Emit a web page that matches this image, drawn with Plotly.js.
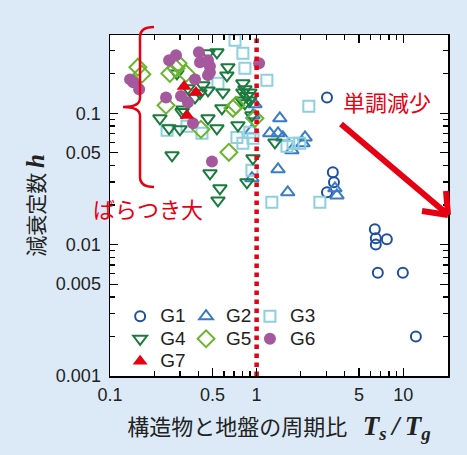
<!DOCTYPE html>
<html>
<head>
<meta charset="utf-8">
<script src="https://cdn.plot.ly/plotly-3.0.1.min.js"></script>
<style>
html,body{margin:0;padding:0;background:#dceaf7;}
#chart{width:467px;height:455px;}
</style>
</head>
<body>
<div id="chart"></div>
<script>
// ---- data ----
const groupNames = ['G1','G2','G3','G4','G5','G6','G7'];

const g1X = [3.02,3.31,3.37,3.02,6.40,6.50,6.50,7.73,6.71,9.94,12.2];
const g1Y = [0.132,0.0355,0.0298,0.025,0.0131,0.0112,0.0100,0.0110,0.0061,0.0061,0.0020];

const g2X = [0.974,0.944,0.929,1.44,1.23,1.40,1.51,2.14,2.07,1.74,1.40,0.929,1.63,3.53,3.42];
const g2Y = [0.117,0.0964,0.0741,0.0915,0.0703,0.0703,0.0655,0.0655,0.059,0.0522,0.0374,0.032,0.025,0.0237,0.0268];

const g3X = [0.712,0.806,0.832,0.545,1.175,2.27,0.245,0.335,0.424,0.734,0.806,0.900,0.944,1.61,1.77,1.97,0.929,1.27,2.70];
const g3Y = [0.359,0.286,0.220,0.169,0.178,0.113,0.0741,0.0795,0.0703,0.0655,0.059,0.0716,0.0644,0.056,0.059,0.059,0.0368,0.021,0.021];

const g4X = [0.536,0.466,0.637,0.627,0.806,0.832,0.806,0.900,0.859,0.794,0.900,0.832,0.589,0.466,0.430,0.411,0.286,0.315,0.580,0.466,0.536,0.746,0.929,0.219,0.253,0.300,0.265,0.481,0.562,0.545,0.944,0.859,1.333,0.340,0.380,0.310];
const g4Y = [0.291,0.286,0.224,0.194,0.169,0.152,0.144,0.144,0.135,0.125,0.125,0.119,0.144,0.149,0.163,0.142,0.201,0.107,0.109,0.0915,0.0767,0.081,0.0964,0.0915,0.0767,0.0754,0.0478,0.0349,0.0268,0.0217,0.0454,0.0298,0.060,0.155,0.132,0.102];

const g5X = [0.155,0.165,0.256,0.282,0.330,0.291,0.241,0.417,0.689,0.723,0.647,0.974];
const g5Y = [0.224,0.198,0.201,0.220,0.201,0.240,0.115,0.0754,0.109,0.115,0.0504,0.0915];

const g6X = [0.137,0.144,0.158,0.253,0.282,0.404,0.411,0.466,0.480,0.480,0.466,0.380,0.241,0.305,0.340,0.368,0.496,1.04];
const g6Y = [0.181,0.172,0.152,0.253,0.276,0.291,0.244,0.253,0.228,0.205,0.195,0.181,0.132,0.135,0.121,0.084,0.043,0.240];

const g7X = [0.320,0.386,0.335];
const g7Y = [0.160,0.144,0.096];

const xTickVals = [0.1,0.5,1,5,10];
const xTickText = ['0.1','0.5','1','5','10'];
const xMinorVals = [0.2,0.3,0.4,0.6,0.7,0.8,0.9,2,3,4,6,7,8,9,20];
const yTickVals = [0.001,0.005,0.01,0.05,0.1];
const yTickText = ['0.001','0.005','0.01','0.05','0.1'];
const yMinorVals = [0.002,0.003,0.004,0.006,0.007,0.008,0.009,0.02,0.03,0.04,0.06,0.07,0.08,0.09,0.2,0.3];
const refLineX = [1,1];
const refLineY = [0.001,0.4];

// ---- styling ----
const RED = '#e60012';
const numFont = {family:'Liberation Sans, Arial, sans-serif', size:18, color:'#222'};
const jpFont = 'Noto Sans CJK JP, sans-serif';
const legName = n => '<span style="font-size:19px">' + n + '</span>';

function openTrace(name, x, y, symbol, color, size, legend){
  return {type:'scatter', mode:'markers', name:legName(name), x:x, y:y, legend:legend,
    marker:{symbol:symbol, size:size, color:color, line:{color:color, width:2}},
    cliponaxis:true};
}

const traces = [
  openTrace(groupNames[0], g1X, g1Y, 'circle-open', '#1f4f9e', 10, 'legend'),
  openTrace(groupNames[1], g2X, g2Y, 'triangle-up-open', '#3a7cc3', 12, 'legend2'),
  openTrace(groupNames[2], g3X, g3Y, 'square-open', '#8ed0dd', 11, 'legend3'),
  openTrace(groupNames[3], g4X, g4Y, 'triangle-down-open', '#1b7a3d', 12, 'legend'),
  openTrace(groupNames[4], g5X, g5Y, 'diamond-open', '#6bb52e', 13, 'legend2'),
  {type:'scatter', mode:'markers', name:legName(groupNames[5]), x:g6X, y:g6Y, legend:'legend3',
    marker:{symbol:'circle', size:12, color:'#a6589e', line:{width:0}}},
  {type:'scatter', mode:'markers', name:legName(groupNames[6]), x:g7X, y:g7Y, legend:'legend',
    marker:{symbol:'triangle-up', size:13, color:RED, line:{width:0}}},
  {type:'scatter', mode:'lines', x:refLineX, y:refLineY, showlegend:false, hoverinfo:'skip',
    line:{color:RED, width:4.5, dash:'4.5px,4.5px'}}
];

function P(px,py){ return [((px-110)/338).toFixed(4), ((376-py)/341).toFixed(4)]; }
function pathOf(cmds){ return cmds.map(c=>c[0]+' '+c.slice(1).map(p=>P(p[0],p[1]).join(',')).join(' ')).join(' '); }

const bracePath = pathOf([
  ['M',[154,27]],
  ['Q',[140,27],[140,37]],
  ['L',[140,98]],
  ['Q',[140,107],[123,107]],
  ['Q',[140,107],[140,116]],
  ['L',[140,177]],
  ['Q',[140,187],[154,187]]
]);

function seg(a,b,w){
  const p0=P(a[0],a[1]), p1=P(b[0],b[1]);
  return {type:'line', xref:'paper', yref:'paper', x0:+p0[0], y0:+p0[1], x1:+p1[0], y1:+p1[1],
    line:{color:RED, width:w}};
}

const legFont = {family:'Liberation Sans, Arial, sans-serif', size:15, color:'#222'};
const legTop = (376-300)/341;

const layout = {
  width:467, height:455,
  paper_bgcolor:'#dceaf7', plot_bgcolor:'#ffffff',
  margin:{l:110, r:19, t:35, b:79},
  showlegend:true,
  xaxis:{type:'log', range:[-1, Math.log10(20.2)], tickmode:'array', tickvals:xTickVals, ticktext:xTickText,
    ticks:'inside', ticklen:8, tickwidth:1.3, tickcolor:'#000', showline:true, linecolor:'#000', linewidth:1.5,
    mirror:'ticks', showgrid:false, zeroline:false, tickfont:numFont, ticklabelstandoff:2,
    minor:{tickmode:'array', tickvals:xMinorVals, ticks:'inside', ticklen:5, tickwidth:1.2, tickcolor:'#000', showgrid:false},
    title:{text:'構造物と地盤の周期比\u2002\u2009<span style="font-family:Liberation Serif,serif;font-size:27px"><b><i>T<sub>s</sub></i></b><b><i>\u2009/\u2009T<sub>g</sub></i></b></span>',
      font:{family:jpFont, size:22, color:'#222'}, standoff:15}},
  yaxis:{type:'log', range:[-3, Math.log10(0.394)], tickmode:'array', tickvals:yTickVals, ticktext:yTickText,
    ticks:'inside', ticklen:8, tickwidth:1.3, tickcolor:'#000', showline:true, linecolor:'#000', linewidth:1.5,
    mirror:'ticks', showgrid:false, zeroline:false, tickfont:numFont, ticklabelstandoff:4,
    minor:{tickmode:'array', tickvals:yMinorVals, ticks:'inside', ticklen:5, tickwidth:1.2, tickcolor:'#000', showgrid:false},
    title:{text:'減衰定数 <span style="font-family:Liberation Serif,serif;font-size:25px"><b><i>h</i></b></span>\u2003\u2003\u2003',
      font:{family:jpFont, size:21, color:'#222'}, standoff:5}},
  legend:{x:0.03, y:legTop, xanchor:'left', yanchor:'top', bgcolor:'rgba(0,0,0,0)', itemwidth:30,
    font:legFont, traceorder:'normal'},
  legend2:{x:0.225, y:legTop, xanchor:'left', yanchor:'top', bgcolor:'rgba(0,0,0,0)', itemwidth:30,
    font:legFont, traceorder:'normal'},
  legend3:{x:0.414, y:legTop, xanchor:'left', yanchor:'top', bgcolor:'rgba(0,0,0,0)', itemwidth:30,
    font:legFont, traceorder:'normal'},
  shapes:[
    {type:'path', xref:'paper', yref:'paper', path:bracePath, line:{color:RED, width:2.5}},
    seg([341,124],[446,213],6),
    seg([448,215],[422,211],6),
    seg([448,215],[446,191],6)
  ],
  annotations:[
    {xref:'paper', yref:'paper', x:(148-110)/338, y:(376-208)/341, xanchor:'center', yanchor:'middle',
      text:'ばらつき大', showarrow:false, font:{family:jpFont, size:22, color:RED}},
    {xref:'paper', yref:'paper', x:(387-110)/338, y:(376-101)/341, xanchor:'center', yanchor:'middle',
      text:'単調減少', showarrow:false, font:{family:jpFont, size:22, color:RED}}
  ]
};

Plotly.newPlot('chart', traces, layout, {displayModeBar:false, staticPlot:true});
</script>
</body>
</html>
